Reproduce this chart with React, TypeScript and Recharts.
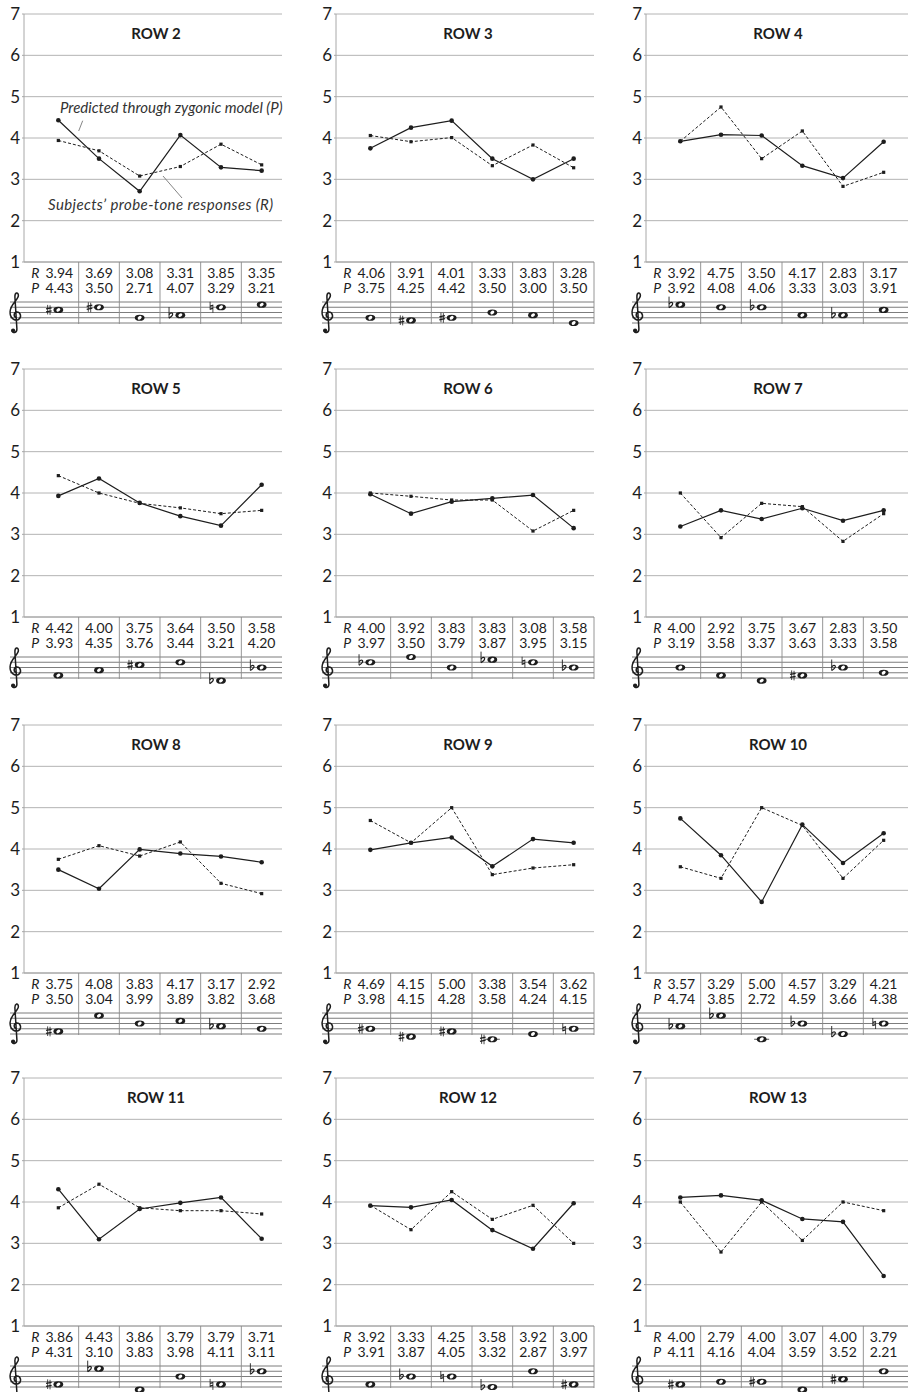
import React from "react";
import { LineChart, Line, XAxis, YAxis, CartesianGrid } from "recharts";

// R = subjects' probe-tone responses, P = predicted through zygonic model
const row2R = [3.94, 3.69, 3.08, 3.31, 3.85, 3.35];
const row2P = [4.43, 3.5, 2.71, 4.07, 3.29, 3.21];
const row2Tones = ["C#5", "D#5", "G4", "Ab4", "Dn5", "E5"];

const row3R = [4.06, 3.91, 4.01, 3.33, 3.83, 3.28];
const row3P = [3.75, 4.25, 4.42, 3.5, 3.0, 3.5];
const row3Tones = ["G4", "F#4", "G#4", "B4", "A4", "E4"];

const row4R = [3.92, 4.75, 3.5, 4.17, 2.83, 3.17];
const row4P = [3.92, 4.08, 4.06, 3.33, 3.03, 3.91];
const row4Tones = ["Eb5", "D5", "Db5", "A4", "Ab4", "C5"];

const row5R = [4.42, 4.0, 3.75, 3.64, 3.5, 3.58];
const row5P = [3.93, 4.35, 3.76, 3.44, 3.21, 4.2];
const row5Tones = ["F4", "A4", "C#5", "D5", "Db4", "Bb4"];

const row6R = [4.0, 3.92, 3.83, 3.83, 3.08, 3.58];
const row6P = [3.97, 3.5, 3.79, 3.87, 3.95, 3.15];
const row6Tones = ["Db5", "F5", "B4", "Eb5", "Dn5", "Bb4"];

const row7R = [4.0, 2.92, 3.75, 3.67, 2.83, 3.5];
const row7P = [3.19, 3.58, 3.37, 3.63, 3.33, 3.58];
const row7Tones = ["B4", "F4", "D4", "F#4", "Bb4", "G4"];

const row8R = [3.75, 4.08, 3.83, 4.17, 3.17, 2.92];
const row8P = [3.5, 3.04, 3.99, 3.89, 3.82, 3.68];
const row8Tones = ["F#4", "E5", "B4", "C5", "Ab4", "G4"];

const row9R = [4.69, 4.15, 5.0, 3.38, 3.54, 3.62];
const row9P = [3.98, 4.15, 4.28, 3.58, 4.24, 4.15];
const row9Tones = ["G#4", "D#4", "F#4", "C#4", "E4", "Gn4"];

const row10R = [3.57, 3.29, 5.0, 4.57, 3.29, 4.21];
const row10P = [4.74, 3.85, 2.72, 4.59, 3.66, 4.38];
const row10Tones = ["Ab4", "Eb5", "C4", "Bb4", "Eb4", "Bn4"];

const row11R = [3.86, 4.43, 3.86, 3.79, 3.79, 3.71];
const row11P = [4.31, 3.1, 3.83, 3.98, 4.11, 3.11];
const row11Tones = ["F#4", "Eb5", "D4", "B4", "Fn4", "Db5"];

const row12R = [3.92, 3.33, 4.25, 3.58, 3.92, 3.0];
const row12P = [3.91, 3.87, 4.05, 3.32, 2.87, 3.97];
const row12Tones = ["F4", "Bb4", "Bn4", "Eb4", "D5", "F#4"];

const row13R = [4.0, 2.79, 4.0, 3.07, 4.0, 3.79];
const row13P = [4.11, 4.16, 4.04, 3.59, 3.52, 2.21];
const row13Tones = ["F#4", "G4", "G#4", "D4", "A#4", "D5"];

const yTicks = [1, 2, 3, 4, 5, 6, 7];

const panels = [
  { title: "ROW 2", r: row2R, p: row2P, tones: row2Tones },
  { title: "ROW 3", r: row3R, p: row3P, tones: row3Tones },
  { title: "ROW 4", r: row4R, p: row4P, tones: row4Tones },
  { title: "ROW 5", r: row5R, p: row5P, tones: row5Tones },
  { title: "ROW 6", r: row6R, p: row6P, tones: row6Tones },
  { title: "ROW 7", r: row7R, p: row7P, tones: row7Tones },
  { title: "ROW 8", r: row8R, p: row8P, tones: row8Tones },
  { title: "ROW 9", r: row9R, p: row9P, tones: row9Tones },
  { title: "ROW 10", r: row10R, p: row10P, tones: row10Tones },
  { title: "ROW 11", r: row11R, p: row11P, tones: row11Tones },
  { title: "ROW 12", r: row12R, p: row12P, tones: row12Tones },
  { title: "ROW 13", r: row13R, p: row13P, tones: row13Tones },
];

// layout
const COL_LEFT = [0, 312, 622];
const COL_EXTRA = [0, 0, 4]; // right column's grid runs to the page edge
const ROW_TOP = [0, 355, 711, 1064];
const PANEL_W = 300;
const PANEL_H = 345;
const M_TOP = 14;
const M_RIGHT = 18;
const Y_AXIS_W = 24;
const X_LEAD = 14; // gap between the y axis and the first table column
const PLOT_H = 248;
const X_AXIS_H = PANEL_H - M_TOP - PLOT_H;
const AXIS_Y = M_TOP + PLOT_H;
const PLOT_RIGHT = PANEL_W - M_RIGHT;
const BAND = (PLOT_RIGHT - Y_AXIS_W - X_LEAD) / 6;
const STAFF_TOP = AXIS_Y + 40;
const STAFF_GAP = 5.25;
const STAFF_BOTTOM = STAFF_TOP + 4 * STAFF_GAP;

const FONT = "Lato, 'Open Sans', sans-serif";
const INK = "#1d1d1d";

const LETTERS = "CDEFGAB";
// staff position in half-spaces, bottom line (E4) = 0
const toneStep = (t: string) =>
  (Number(t[t.length - 1]) - 4) * 7 + LETTERS.indexOf(t[0]) - 2;
const toneAccidental = (t: string) => t.slice(1, -1);

const TrebleClef = ({ x, y }: { x: number; y: number }) => (
  <g transform={`translate(${x},${y})`}>
    <path
      d="M7.4,27 C7.6,31 2.8,31.6 2.6,28.4 M7.4,27 L5.4,-5 C5.2,-9.5 8.8,-10.5 8.9,-6.5 C9,-2.5 1,2 0.6,9.5 C0.2,16 5,19.5 9,17.5 C12.5,15.5 11.2,10 7.4,10 C4.2,10 3.8,14.5 6.4,15.6"
      fill="none"
      stroke={INK}
      strokeWidth={1.5}
      strokeLinecap="round"
    />
    <circle cx={3.6} cy={28.6} r={2.1} fill={INK} />
  </g>
);

// sharp, flat and natural signs centred on the note's staff position
const Accidental = ({ kind, x, y }: { kind: string; x: number; y: number }) => {
  if (kind === "#")
    return (
      <g transform={`translate(${x},${y})`} stroke={INK} fill="none">
        <line x1={-1.2} y1={-5} x2={-1.2} y2={4.6} strokeWidth={0.8} />
        <line x1={1.2} y1={-4.6} x2={1.2} y2={5} strokeWidth={0.8} />
        <line x1={-2.8} y1={-0.9} x2={2.8} y2={-2.1} strokeWidth={1.3} />
        <line x1={-2.8} y1={2.1} x2={2.8} y2={0.9} strokeWidth={1.3} />
      </g>
    );
  if (kind === "b")
    return (
      <g transform={`translate(${x},${y})`} stroke={INK} fill="none">
        <line x1={-1.8} y1={-8} x2={-1.8} y2={3} strokeWidth={0.9} />
        <path d="M-1.8,3 C1.2,1.4 2.8,-1.2 1.2,-2 C0.1,-2.5 -1,-1.6 -1.8,-0.6" strokeWidth={1.2} />
      </g>
    );
  if (kind === "n")
    return (
      <g transform={`translate(${x},${y})`} stroke={INK} fill="none">
        <line x1={-1.4} y1={-5.5} x2={-1.4} y2={2.6} strokeWidth={0.8} />
        <line x1={1.4} y1={-2.6} x2={1.4} y2={5.5} strokeWidth={0.8} />
        <line x1={-1.4} y1={-1.1} x2={1.4} y2={-1.8} strokeWidth={1.3} />
        <line x1={-1.4} y1={1.8} x2={1.4} y2={1.1} strokeWidth={1.3} />
      </g>
    );
  return null;
};

const WholeNote = ({ x, tone }: { x: number; tone: string }) => {
  const step = toneStep(tone);
  const y = STAFF_BOTTOM - step * (STAFF_GAP / 2);
  const ledgers: number[] = [];
  for (let s = -2; s >= step; s -= 2) ledgers.push(STAFF_BOTTOM - s * (STAFF_GAP / 2));
  for (let s = 10; s <= step; s += 2) ledgers.push(STAFF_BOTTOM - s * (STAFF_GAP / 2));
  return (
    <g>
      {ledgers.map((ly) => (
        <line key={ly} x1={x - 7.5} x2={x + 7.5} y1={ly} y2={ly} stroke="#444" strokeWidth={0.9} />
      ))}
      <ellipse cx={x} cy={y} rx={4.9} ry={3.1} fill={INK} />
      <ellipse cx={x} cy={y} rx={2.2} ry={1.6} fill="#fff" transform={`rotate(-40 ${x} ${y})`} />
      <Accidental kind={toneAccidental(tone)} x={x - 9.5} y={y} />
    </g>
  );
};

// one table column (R, P values) plus its slice of the staff
const TableTick = (props: any) => {
  const { x, payload, rows, rightEdge, staffEnd } = props;
  const idx = payload?.index ?? props.index ?? 0;
  const row = rows[idx];
  if (!row) return null;
  const lines = [0, 1, 2, 3, 4].map((k) => STAFF_TOP + k * STAFF_GAP);
  const showSep = idx < 5 || rightEdge;
  return (
    <g>
      {idx === 0 && (
        <g>
          {lines.map((ly) => (
            <line key={ly} x1={10} x2={staffEnd} y1={ly} y2={ly} stroke="#6e6e6e" strokeWidth={0.9} />
          ))}
          <TrebleClef x={9.5} y={STAFF_TOP} />
          <text x={x - 27} y={AXIS_Y + 16} fontSize={14} fontStyle="italic" fontFamily={FONT} fill={INK}>R</text>
          <text x={x - 27} y={AXIS_Y + 31} fontSize={14} fontStyle="italic" fontFamily={FONT} fill={INK}>P</text>
        </g>
      )}
      {showSep && (
        <line x1={x + BAND / 2} x2={x + BAND / 2} y1={AXIS_Y} y2={STAFF_BOTTOM + 1} stroke="#8a8a8a" strokeWidth={0.9} />
      )}
      <text x={idx === 0 ? x + 1 : x} y={AXIS_Y + 16} textAnchor="middle" fontSize={14} fontFamily={FONT} fill={INK}>
        {row.R.toFixed(2)}
      </text>
      <text x={idx === 0 ? x + 1 : x} y={AXIS_Y + 31} textAnchor="middle" fontSize={14} fontFamily={FONT} fill={INK}>
        {row.P.toFixed(2)}
      </text>
      <WholeNote x={x} tone={row.tone} />
    </g>
  );
};

const SquareDot = (props: any) => {
  const { cx, cy, index } = props;
  if (cx == null || cy == null) return <g key={`sq-${index}`} />;
  return <rect key={`sq-${index}`} x={cx - 1.6} y={cy - 1.6} width={3.2} height={3.2} fill={INK} />;
};

const Panel = ({ panel, left, top, rightEdge, extra, annotate }: any) => {
  const data = panel.r.map((r: number, i: number) => ({
    col: i + 1,
    R: r,
    P: panel.p[i],
    tone: panel.tones[i],
  }));
  const w = PANEL_W + extra;
  return (
    <div style={{ position: "absolute", left, top, width: w, height: PANEL_H }}>
      <LineChart
        width={w}
        height={PANEL_H}
        data={data}
        margin={{ top: M_TOP, right: M_RIGHT, left: 0, bottom: 0 }}
      >
        <CartesianGrid vertical={false} stroke="#b4b4b4" strokeWidth={1} />
        <XAxis
          dataKey="col"
          height={X_AXIS_H}
          padding={{ left: X_LEAD + BAND / 2, right: BAND / 2 + extra }}
          axisLine={{ stroke: "#a0a0a0" }}
          tickLine={false}
          interval={0}
          tick={(p: any) => (
            <TableTick {...p} rows={data} rightEdge={rightEdge} staffEnd={PLOT_RIGHT + extra} />
          )}
        />
        <YAxis
          type="number"
          domain={[1, 7]}
          ticks={yTicks}
          interval={0}
          width={Y_AXIS_W}
          tickSize={2}
          tickMargin={2}
          axisLine={{ stroke: "#a8a8a8" }}
          tickLine={{ stroke: "#a8a8a8" }}
          tick={{ fontSize: 17, fill: INK, fontFamily: FONT }}
        />
        <Line
          dataKey="R"
          stroke={INK}
          strokeWidth={1}
          strokeDasharray="3 2"
          dot={SquareDot}
          activeDot={false}
          isAnimationActive={false}
        />
        <Line
          dataKey="P"
          stroke={INK}
          strokeWidth={1.2}
          dot={{ r: 2.3, fill: INK, stroke: "none" }}
          activeDot={false}
          isAnimationActive={false}
        />
      </LineChart>
      <svg
        width={w}
        height={PANEL_H}
        style={{ position: "absolute", left: 0, top: 0, pointerEvents: "none" }}
      >
        <text x={156} y={38.5} textAnchor="middle" fontSize={15} fontWeight={700} fontFamily={FONT} fill={INK}>
          {panel.title}
        </text>
        {annotate && (
          <g fontFamily={FONT} fontStyle="italic" fontSize={15} fill="#333">
            <text x={60} y={113}>Predicted through zygonic model (P)</text>
            <line x1={82.7} y1={120.7} x2={78.7} y2={131} stroke="#777" strokeWidth={0.9} />
            <text x={48} y={210} letterSpacing={0.4}>{"Subjects\u2019 probe-tone responses (R)"}</text>
            <line x1={163} y1={176} x2={182} y2={198} stroke="#777" strokeWidth={0.9} />
          </g>
        )}
      </svg>
    </div>
  );
};

export default function App() {
  return (
    <div
      style={{
        position: "absolute",
        left: 0,
        top: 0,
        width: 908,
        height: 1392,
        overflow: "hidden",
        background: "#fff",
      }}
    >
      {panels.map((panel, i) => (
        <Panel
          key={panel.title}
          panel={panel}
          left={COL_LEFT[i % 3]}
          top={ROW_TOP[Math.floor(i / 3)]}
          rightEdge={i % 3 === 1}
          extra={COL_EXTRA[i % 3]}
          annotate={i === 0}
        />
      ))}
    </div>
  );
}
